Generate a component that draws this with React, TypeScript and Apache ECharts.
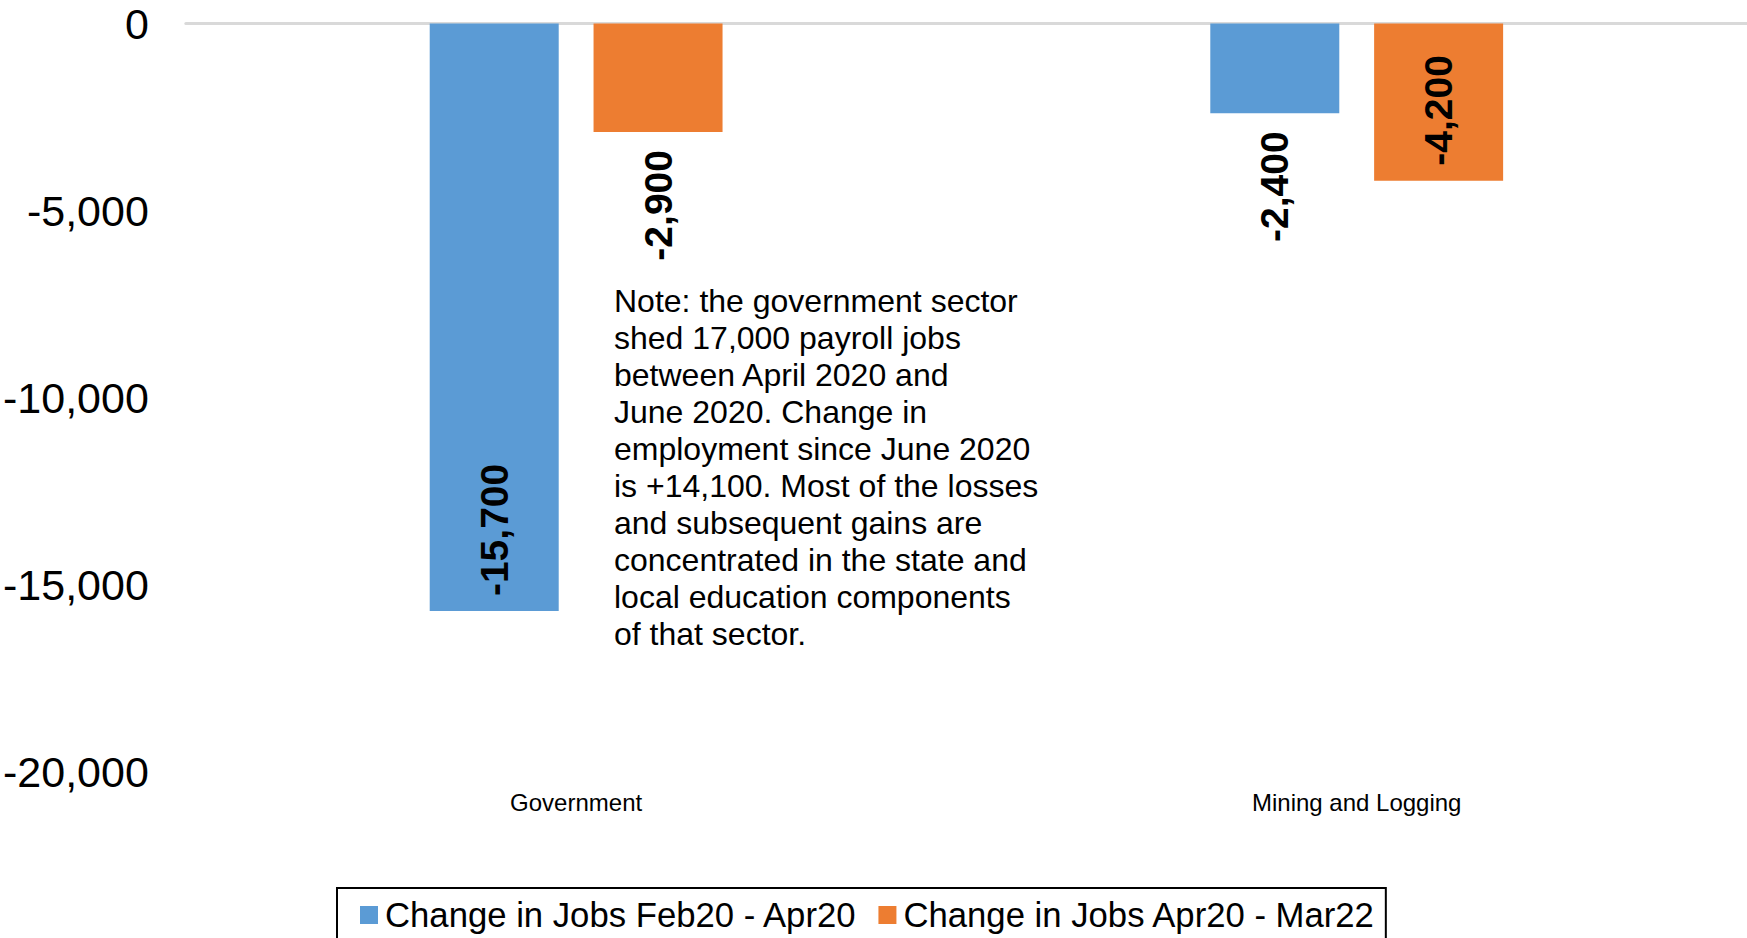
import React, { useEffect, useRef } from "react";
import * as echarts from "echarts";

const categories = ["Government", "Mining and Logging"];
const seriesNames = ["Change in Jobs Feb20 - Apr20", "Change in Jobs Apr20 - Mar22"];
const feb20Apr20 = [-15700, -2400];
const apr20Mar22 = [-2900, -4200];
const yTicks = [-20000, -15000, -10000, -5000, 0];
const noteLines = [
  "Note: the government sector",
  "shed 17,000 payroll jobs",
  "between April 2020 and",
  "June 2020. Change in",
  "employment since June 2020",
  "is +14,100. Most of the losses",
  "and subsequent gains are",
  "concentrated in the state and",
  "local education components",
  "of that sector.",
];

const FONT = "'Liberation Sans', Arial, sans-serif";
const INSIDE_MIN = 3500;

function fmt(v: number) {
  const s = Math.abs(v).toString().replace(/\B(?=(\d{3})+(?!\d))/g, ",");
  return (v < 0 ? "-" : "") + s;
}

function makeData(values: number[]) {
  return values.map((v) => {
    const inside = Math.abs(v) >= INSIDE_MIN;
    return {
      value: v,
      label: inside
        ? { position: "insideBottom", align: "left", verticalAlign: "middle", distance: 15 }
        : { position: "bottom", align: "right", verticalAlign: "middle", distance: 18 },
    };
  });
}

export default function App() {
  const ref = useRef<HTMLDivElement>(null);
  useEffect(() => {
    if (!ref.current) return;
    const chart = echarts.init(ref.current, undefined, { renderer: "svg" });
    const labelBase = {
      show: true,
      rotate: 90,
      color: "#000",
      fontSize: 39,
      fontWeight: "bold",
      fontFamily: FONT,
      formatter: (p: any) => fmt(p.value),
    };
    chart.setOption({
      animation: false,
      backgroundColor: "#fff",
      textStyle: { fontFamily: FONT },
      grid: { left: 182, right: 0, top: 23.5, bottom: 166, containLabel: false },
      legend: {
        data: seriesNames,
        left: 337,
        top: 888,
        orient: "horizontal",
        icon: "rect",
        itemWidth: 18,
        itemHeight: 18,
        itemGap: 21,
        borderColor: "#000",
        borderWidth: 2,
        padding: [9, 10, 30, 23],
        textStyle: {
          fontSize: 34.7,
          color: "#000",
          fontFamily: FONT,
          lineHeight: 36,
          padding: [0, 0, 0, 2],
        },
      },
      xAxis: [
        {
          type: "category",
          data: categories,
          position: "bottom",
          axisLine: { show: false, onZero: false },
          axisTick: { show: false },
          axisLabel: { color: "#000", fontSize: 24, margin: 18, fontFamily: FONT },
          splitLine: { show: false },
        },
        {
          type: "category",
          data: categories,
          position: "top",
          axisLine: { show: true, onZero: false, lineStyle: { color: "#d9d9d9", width: 3 } },
          axisTick: { show: false },
          axisLabel: { show: false },
          splitLine: { show: false },
        },
      ],
      yAxis: {
        type: "value",
        min: yTicks[0],
        max: yTicks[yTicks.length - 1],
        interval: 5000,
        axisLine: { show: false },
        axisTick: { show: false },
        splitLine: { show: false },
        axisLabel: {
          color: "#000",
          fontSize: 43,
          margin: 37,
          fontFamily: FONT,
          formatter: (v: number) => fmt(v),
        },
      },
      series: [
        {
          name: seriesNames[0],
          type: "bar",
          data: makeData(feb20Apr20),
          barWidth: 129,
          barGap: "27%",
          itemStyle: { color: "#5B9BD5" },
          label: labelBase,
        },
        {
          name: seriesNames[1],
          type: "bar",
          data: makeData(apr20Mar22),
          barWidth: 129,
          barGap: "27%",
          itemStyle: { color: "#ED7D31" },
          label: labelBase,
        },
      ],
      graphic: [
        {
          type: "text",
          left: 614,
          top: 282,
          style: {
            text: noteLines.join("\n"),
            fontSize: 32,
            lineHeight: 37,
            fontFamily: FONT,
            fill: "#000",
          },
        },
      ],
    });
    return () => chart.dispose();
  }, []);
  return (
    <div
      ref={ref}
      style={{ position: "absolute", left: 0, top: 0, width: 1747, height: 938 }}
    />
  );
}
